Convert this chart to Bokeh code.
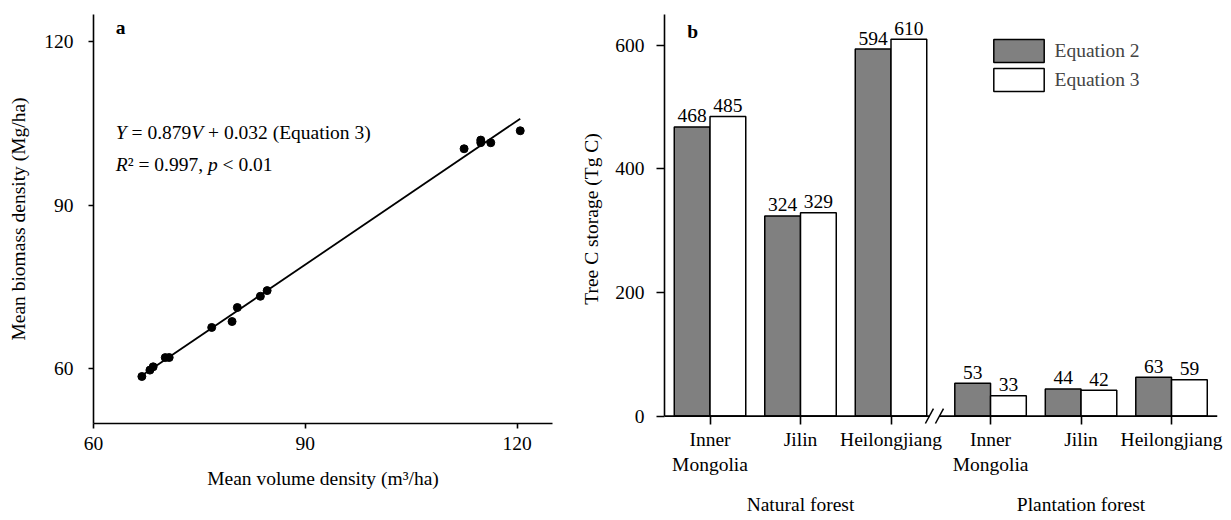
import numpy as np
from bokeh.plotting import figure
from bokeh.layouts import row
from bokeh.models import (Range1d, FixedTicker, LinearAxis, Legend, LegendItem,
                          ColumnDataSource, Span)
from bokeh.core.properties import value
from bokeh.transform import dodge
from bokeh.embed import file_html
from bokeh.resources import INLINE

# ---------------- data: panel a ----------------
volume_density = [66.85, 67.99, 68.45, 70.16, 70.72, 76.74, 79.62, 80.37,
                  83.63, 84.59, 112.48, 114.84, 114.84, 116.26, 120.43]
biomass_density = [58.62, 59.79, 60.40, 62.08, 62.10, 67.61, 68.70, 71.27,
                   73.33, 74.37, 100.38, 101.97, 101.50, 101.48, 103.68]
fit_slope = 0.879
fit_intercept = 0.032
ticks_a_x = [60, 90, 120]
ticks_a_y = [60, 90, 120]

# ---------------- data: panel b ----------------
forest_types = ["Natural forest", "Plantation forest"]
provinces = ["Inner Mongolia", "Jilin", "Heilongjiang"]
province_tick_labels = ["Inner\nMongolia", "Jilin", "Heilongjiang"]
eq2_natural = [468, 324, 594]
eq3_natural = [485, 329, 610]
eq2_plantation = [53, 44, 63]
eq3_plantation = [33, 42, 59]
ticks_b_y = [0, 200, 400, 600]

FONT = "Liberation Serif"
FSZ = 19.5
FS = f"{FSZ}px"
GRAY = "#808080"

# Times / Liberation Serif advance widths (per 1000 em)
W_REG = {' ': 250, '.': 250, ',': 250, '=': 564, '+': 564, '<': 564, '(': 333,
         ')': 333, 'E': 611, 'q': 500, 'u': 500, 'a': 444, 't': 278, 'i': 278,
         'o': 500, 'n': 500, '\u00b2': 300}
for d in "0123456789":
    W_REG[d] = 500
W_IT = {'Y': 556, 'V': 611, 'R': 611, 'p': 500, ' ': 250}


def seg_w(s, italic):
    tab = W_IT if italic else W_REG
    return sum(tab.get(c, 500) for c in s) * FSZ / 1000.0


def rich_text(p, x, y, segments):
    off = 0.0
    for s, it in segments:
        lead = len(s) - len(s.lstrip(' '))
        core = s.strip(' ')
        trail = len(s) - lead - len(core)
        off += lead * 250 * FSZ / 1000.0
        p.text(x=[x], y=[y], text=[core], x_offset=off,
               text_font=value(FONT), text_font_size=FS,
               text_font_style="italic" if it else "normal",
               text_baseline="middle", text_align="left", text_color="black")
        off += seg_w(core, it) + trail * 250 * FSZ / 1000.0


def style_axis(ax, tick_out, tick_in=0):
    ax.axis_line_width = 1.6
    ax.axis_line_color = "black"
    ax.major_tick_line_width = 1.6
    ax.major_tick_line_color = "black"
    ax.major_tick_in = tick_in
    ax.major_tick_out = tick_out
    ax.minor_tick_line_color = None
    ax.major_label_text_font = FONT
    ax.major_label_text_font_size = FS
    ax.major_label_text_color = "black"
    ax.axis_label_text_font = FONT
    ax.axis_label_text_font_size = FS
    ax.axis_label_text_font_style = "normal"
    ax.axis_label_text_color = "black"


# ================= panel a =================
pa = figure(width=560, height=520, x_range=Range1d(60, 125), y_range=Range1d(50, 125),
            output_backend="svg", toolbar_location=None,
            min_border_left=93, min_border_right=8, min_border_top=14, min_border_bottom=97)
pa.grid.visible = False
pa.outline_line_color = None
style_axis(pa.xaxis[0], 5)
style_axis(pa.yaxis[0], 5)
pa.xaxis.ticker = FixedTicker(ticks=ticks_a_x)
pa.yaxis.ticker = FixedTicker(ticks=ticks_a_y)
pa.xaxis.major_label_standoff = 8
pa.yaxis.major_label_standoff = 15
pa.xaxis.axis_label = "Mean volume density (m\u00b3/ha)"
pa.yaxis.axis_label = "Mean biomass density (Mg/ha)"
pa.xaxis.axis_label_standoff = 15
pa.yaxis.axis_label_standoff = 12

vx = np.array(volume_density)
line_x = np.array([vx.min(), vx.max()])
pa.line(line_x, fit_slope * line_x + fit_intercept, line_color="black", line_width=1.8)
pa.scatter(volume_density, biomass_density, size=8, fill_color="black", line_color="black")

pa.text(x=[63.16], y=[122.6], text=["a"], text_font=value(FONT), text_font_size=FS,
        text_font_style="bold", text_baseline="middle", text_align="left")
rich_text(pa, 63.16, 103.37, [("Y", True), (" = 0.879", False), ("V", True),
                              (" + 0.032 (Equation 3)", False)])
rich_text(pa, 63.16, 97.57, [("R", True), ("\u00b2 = 0.997, ", False), ("p", True),
                             (" < 0.01", False)])

# ================= panel b =================
STEP = 10
GAP = 1
n = len(provinces)
pos_nat = [i * STEP for i in range(n)]
pos_pla = [n * STEP + GAP + i * STEP for i in range(n)]
positions = pos_nat + pos_pla
bar_w = 3.95

src = ColumnDataSource(dict(
    pos=positions,
    eq2=eq2_natural + eq2_plantation,
    eq3=eq3_natural + eq3_plantation,
    eq2_t=[str(v) for v in eq2_natural + eq2_plantation],
    eq3_t=[str(v) for v in eq3_natural + eq3_plantation],
))

pb = figure(width=671, height=520, x_range=Range1d(-5.03, 56.08), y_range=Range1d(-12, 650),
            output_backend="svg", toolbar_location=None,
            min_border_left=104, min_border_right=14, min_border_top=14, min_border_bottom=95)
pb.grid.visible = False
pb.outline_line_color = None

r2 = pb.vbar(x=dodge("pos", -bar_w / 2), top="eq2", bottom=0, width=bar_w, source=src,
             fill_color=GRAY, line_color="black", line_width=1.5)
r3 = pb.vbar(x=dodge("pos", bar_w / 2), top="eq3", bottom=0, width=bar_w, source=src,
             fill_color="white", line_color="black", line_width=1.5)
pb.text(x=dodge("pos", -bar_w / 2), y="eq2", text="eq2_t", source=src, y_offset=-11,
        text_font=value(FONT), text_font_size=FS, text_align="center",
        text_baseline="alphabetic")
pb.text(x=dodge("pos", bar_w / 2), y="eq3", text="eq3_t", source=src, y_offset=-11,
        text_font=value(FONT), text_font_size=FS, text_align="center",
        text_baseline="alphabetic")

# x axis line drawn at value 0 (frame extends a little below for the break marks)
pb.add_layout(Span(location=0, dimension="width", line_color="black", line_width=1.6))

xa = pb.xaxis[0]
style_axis(xa, 1, 7)
xa.axis_line_color = None
xa.ticker = FixedTicker(ticks=positions)
xa.major_label_overrides = {p: lab for p, lab in zip(positions, province_tick_labels * 2)}
xa.major_label_standoff = 4
style_axis(pb.yaxis[0], 8)
pb.yaxis.ticker = FixedTicker(ticks=ticks_b_y)
pb.yaxis.bounds = (0, 650)
pb.yaxis.major_label_standoff = 12
pb.yaxis.axis_label = "Tree C storage (Tg C)"
pb.yaxis.axis_label_standoff = 10

group_centers = [float(np.mean(pos_nat)), float(np.mean(pos_pla))]
ga = LinearAxis(ticker=FixedTicker(ticks=group_centers),
                major_label_overrides={c: t for c, t in zip(group_centers, forest_types)})
style_axis(ga, 0)
ga.axis_line_color = None
ga.major_tick_line_color = None
ga.major_label_standoff = 16
pb.add_layout(ga, "below")

# axis break marks
brk = (pos_nat[-1] + pos_pla[0]) / 2 - 0.7
pb.quad(left=[brk - 0.5], right=[brk + 0.5], bottom=[-3], top=[3],
        fill_color="white", line_color=None, level="overlay")
pb.segment(x0=[brk - 1.0, brk + 0.11], y0=[-12, -12], x1=[brk - 0.11, brk + 1.0],
           y1=[12, 12], line_color="black", line_width=1.5, level="overlay")

pb.text(x=[-2.52], y=[622.7], text=["b"], text_font=value(FONT), text_font_size=FS,
        text_font_style="bold", text_baseline="middle", text_align="left")

legend = Legend(items=[LegendItem(label="Equation 2", renderers=[r2]),
                       LegendItem(label="Equation 3", renderers=[r3])],
                location=(322.5, 329), glyph_width=63, glyph_height=29, spacing=0,
                padding=0, margin=0, label_standoff=5, border_line_color=None,
                background_fill_alpha=0, label_text_font=FONT, label_text_font_size=FS,
                label_height=29)
pb.add_layout(legend)

layout = row(pa, pb)
open("out.html", "w").write(file_html(layout, INLINE))
